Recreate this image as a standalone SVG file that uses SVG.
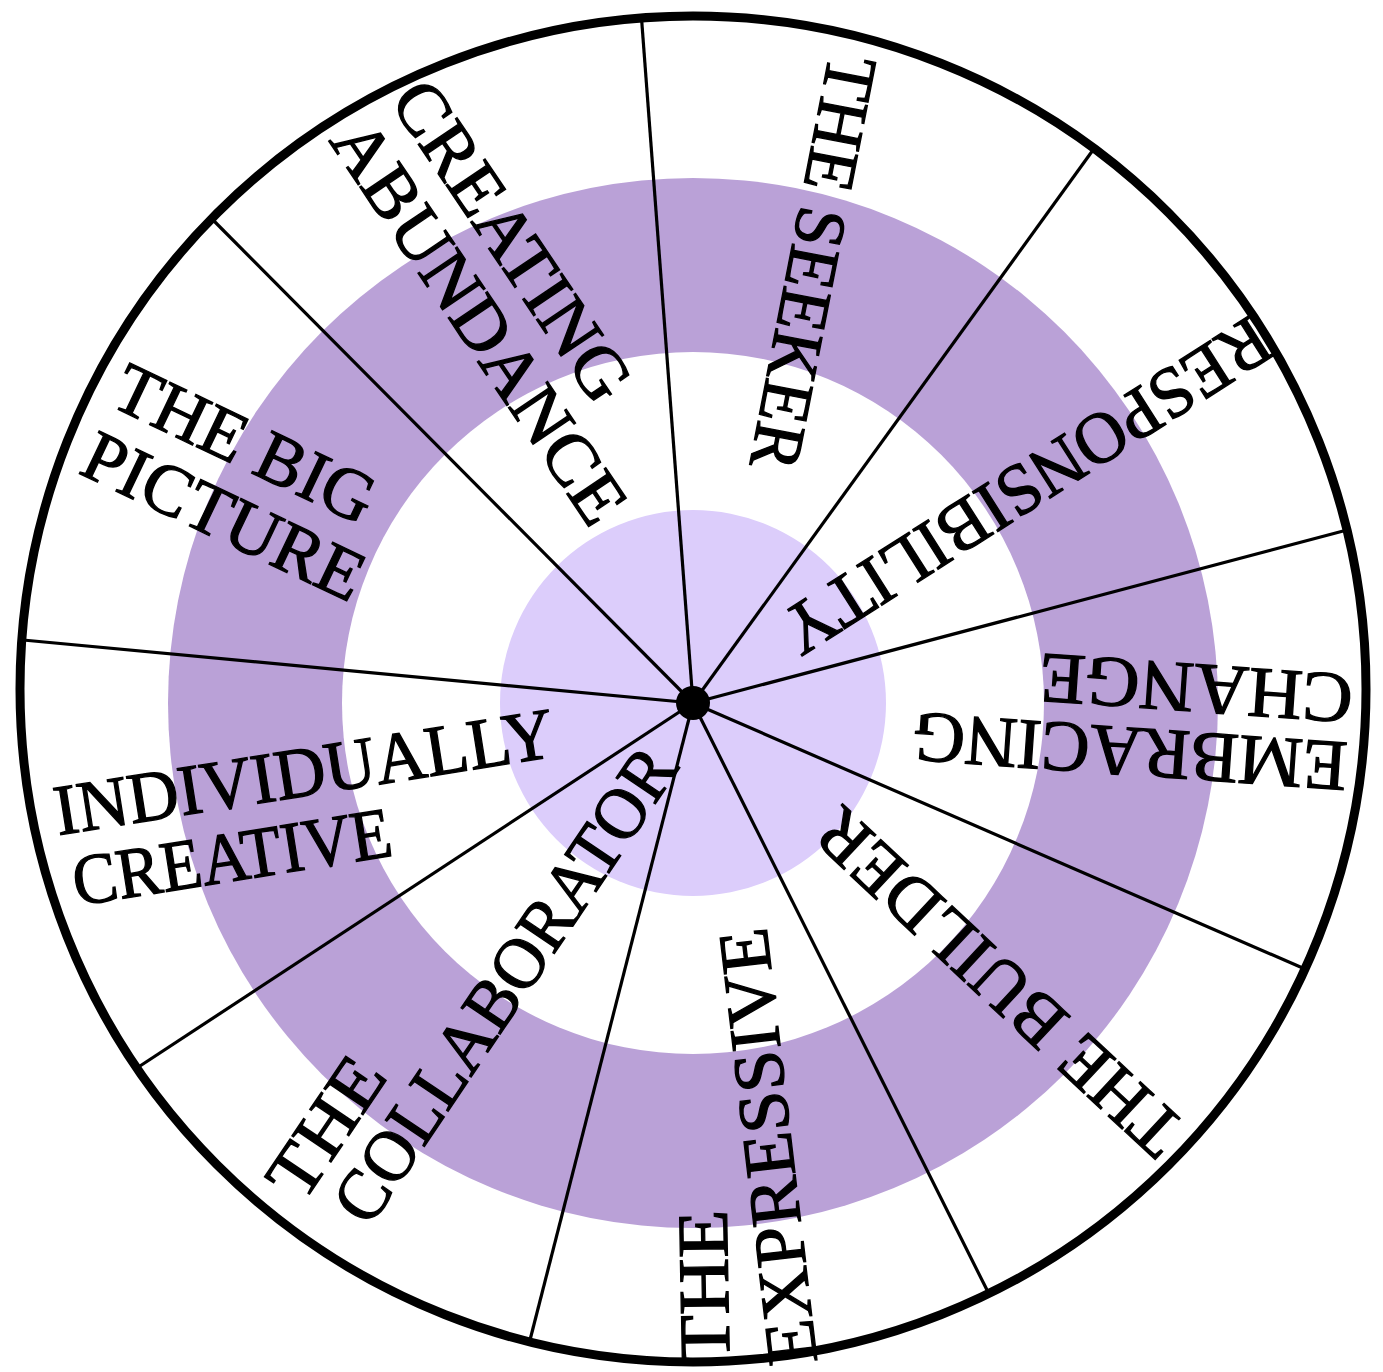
<svg xmlns="http://www.w3.org/2000/svg" width="1383" height="1372" viewBox="0 0 1383 1372">
<style>
.lbl{font-family:"Liberation Serif","Times New Roman",serif;font-size:72px;fill:#000;stroke:#000;stroke-width:1.3;}
.spoke{stroke:#000;stroke-width:3.2;fill:none;}
</style>
<rect x="0" y="0" width="1383" height="1372" fill="#fff"/>
<g id="wheel">
<circle cx="693" cy="689" r="673" fill="#fff"/>
<circle cx="693" cy="703" r="525" fill="#baa1d7"/>
<circle cx="693" cy="703" r="351" fill="#fff"/>
<circle cx="693" cy="703" r="193" fill="#dccdfb"/>
</g>
<g id="connectors">
<line class="spoke" x1="693" y1="703" x2="641.5" y2="18"/>
<line class="spoke" x1="693" y1="703" x2="1093" y2="150"/>
<line class="spoke" x1="693" y1="703" x2="1347" y2="530"/>
<line class="spoke" x1="693" y1="703" x2="1305" y2="969"/>
<line class="spoke" x1="693" y1="703" x2="989" y2="1294"/>
<line class="spoke" x1="693" y1="703" x2="530" y2="1340"/>
<line class="spoke" x1="693" y1="703" x2="140" y2="1066"/>
<line class="spoke" x1="693" y1="703" x2="23" y2="640"/>
<line class="spoke" x1="693" y1="703" x2="213" y2="220"/>
</g>
<circle id="rim" cx="693" cy="689" r="673" fill="none" stroke="#000" stroke-width="9"/>
<circle id="hub" cx="693" cy="703" r="17" fill="#000"/>
<g id="creating-abundance" transform="rotate(56)">
<text class="lbl" x="301" y="-266" textLength="370" lengthAdjust="spacingAndGlyphs">CREATING</text>
<text class="lbl" x="300" y="-193.6" textLength="470" lengthAdjust="spacingAndGlyphs">ABUNDANCE</text>
</g>
<g id="the-seeker" transform="rotate(101)">
<text class="lbl" x="-107" y="-824.4" textLength="420" lengthAdjust="spacingAndGlyphs">THE SEEKER</text>
</g>
<g id="responsibility" transform="rotate(147.5)">
<text class="lbl" x="-887" y="-937.2" textLength="565" lengthAdjust="spacingAndGlyphs">RESPONSIBILITY</text>
</g>
<g id="embracing-change" transform="rotate(184)">
<text class="lbl" x="-1397" y="-647.2" textLength="435" lengthAdjust="spacingAndGlyphs">EMBRACING</text>
<text class="lbl" x="-1398" y="-579.3" textLength="314" lengthAdjust="spacingAndGlyphs">CHANGE</text>
</g>
<g id="the-builder" transform="rotate(223)">
<text class="lbl" x="-1637" y="-13.2" textLength="473" lengthAdjust="spacingAndGlyphs">THE BUILDER</text>
</g>
<g id="the-expressive">
<text class="lbl" transform="rotate(-91)" x="-1375" y="705.5" textLength="153" lengthAdjust="spacingAndGlyphs">THE</text>
<text class="lbl" transform="rotate(-96.7)" x="-1448" y="652.9" textLength="439" lengthAdjust="spacingAndGlyphs">EXPRESSIVE</text>
</g>
<g id="the-collaborator" transform="rotate(-56)">
<text class="lbl" x="-829" y="924.4" textLength="154" lengthAdjust="spacingAndGlyphs">THE</text>
<text class="lbl" x="-812" y="993" textLength="556" lengthAdjust="spacingAndGlyphs">COLLABORATOR</text>
</g>
<g id="individually-creative" transform="rotate(-9)">
<text class="lbl" x="-73" y="834" textLength="505" lengthAdjust="spacingAndGlyphs">INDIVIDUALLY</text>
<text class="lbl" x="-66" y="906.7" textLength="322" lengthAdjust="spacingAndGlyphs">CREATIVE</text>
</g>
<g id="the-big-picture" transform="rotate(25.5)">
<text class="lbl" x="272" y="318.8" textLength="280" lengthAdjust="spacingAndGlyphs">THE BIG</text>
<text class="lbl" x="273" y="393.3" textLength="303" lengthAdjust="spacingAndGlyphs">PICTURE</text>
</g>
</svg>
